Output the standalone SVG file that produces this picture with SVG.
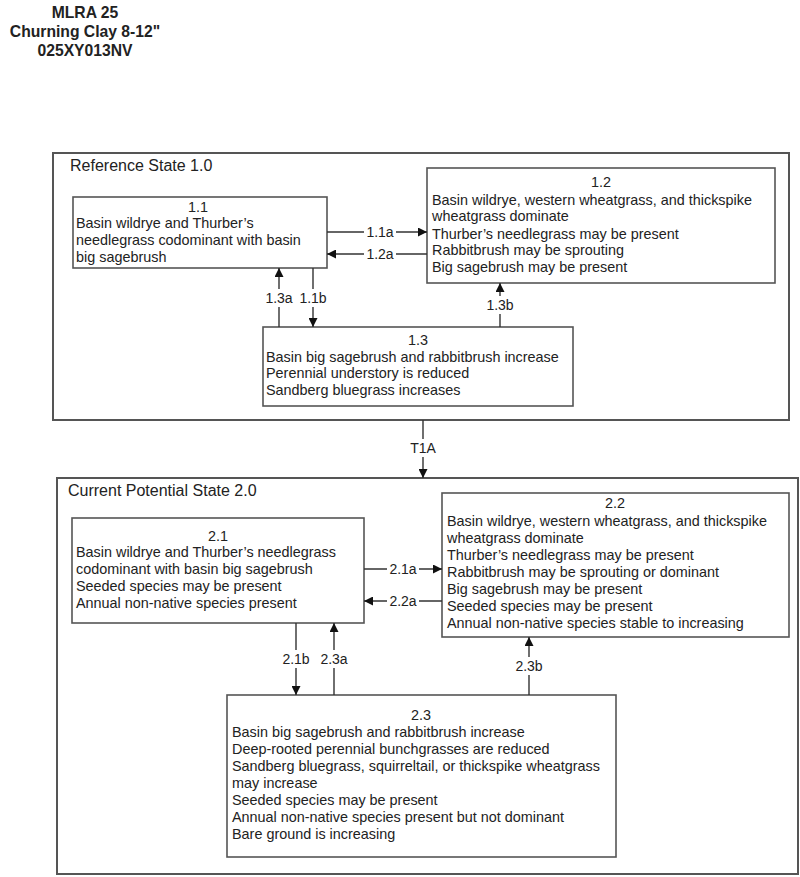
<svg xmlns="http://www.w3.org/2000/svg" width="800" height="877" viewBox="0 0 800 877">
<defs>
<style>
text{font-family:"Liberation Sans",Arial,sans-serif;fill:#222;}
.title{font-size:15.7px;font-weight:bold;text-anchor:middle;}
.state{font-size:16px;}
.t{font-size:14.4px;}
.c{text-anchor:middle;}
.lbl{font-size:14px;text-anchor:middle;}
.frame{fill:#fff;stroke:#555;stroke-width:2;}
.box{fill:#fff;stroke:#555;stroke-width:1.6;}
.ln{stroke:#333;stroke-width:1.4;fill:none;}
.bg{fill:#fff;}
</style>
<marker id="ah" viewBox="0 0 10 10" refX="10" refY="5" markerWidth="9" markerHeight="9" markerUnits="userSpaceOnUse" orient="auto">
<path d="M0,0 L10,5 L0,10 z" fill="#111"/>
</marker>
</defs>
<rect width="800" height="877" fill="#fff"/>
<g id="title">
<text class="title" x="85" y="18">MLRA 25</text>
<text class="title" x="85" y="37">Churning Clay 8-12"</text>
<text class="title" x="85" y="56">025XY013NV</text>
</g>
<g id="state1">
<rect class="frame" x="53" y="153" width="736" height="267"/>
<text class="state" x="70" y="171">Reference State 1.0</text>
</g>
<g id="state2">
<rect class="frame" x="57" y="478" width="741" height="396"/>
<text class="state" x="68" y="496">Current Potential State 2.0</text>
</g>
<g id="n11">
<rect class="box" x="73" y="197" width="254" height="71"/>
<text class="t c" x="198" y="212">1.1</text>
<text class="t" x="76" y="228">Basin wildrye and Thurber’s</text>
<text class="t" x="76" y="245">needlegrass codominant with basin</text>
<text class="t" x="76" y="262">big sagebrush</text>
</g>
<g id="n12">
<rect class="box" x="427" y="168" width="348" height="115"/>
<text class="t c" x="601" y="187">1.2</text>
<text class="t" x="432" y="205">Basin wildrye, western wheatgrass, and thickspike</text>
<text class="t" x="432" y="221">wheatgrass dominate</text>
<text class="t" x="432" y="239">Thurber’s needlegrass may be present</text>
<text class="t" x="432" y="255">Rabbitbrush may be sprouting</text>
<text class="t" x="432" y="272">Big sagebrush may be present</text>
</g>
<g id="n13">
<rect class="box" x="263" y="327" width="310" height="79"/>
<text class="t c" x="418" y="345">1.3</text>
<text class="t" x="266" y="362">Basin big sagebrush and rabbitbrush increase</text>
<text class="t" x="266" y="378">Perennial understory is reduced</text>
<text class="t" x="266" y="395">Sandberg bluegrass increases</text>
</g>
<g id="n21">
<rect class="box" x="72" y="518" width="292" height="105"/>
<text class="t c" x="218" y="541">2.1</text>
<text class="t" x="76" y="557">Basin wildrye and Thurber’s needlegrass</text>
<text class="t" x="76" y="574">codominant with basin big sagebrush</text>
<text class="t" x="76" y="591">Seeded species may be present</text>
<text class="t" x="76" y="608">Annual non-native species present</text>
</g>
<g id="n22">
<rect class="box" x="442" y="493" width="347" height="144"/>
<text class="t c" x="615" y="508">2.2</text>
<text class="t" x="447" y="526">Basin wildrye, western wheatgrass, and thickspike</text>
<text class="t" x="447" y="543">wheatgrass dominate</text>
<text class="t" x="447" y="560">Thurber’s needlegrass may be present</text>
<text class="t" x="447" y="577">Rabbitbrush may be sprouting or dominant</text>
<text class="t" x="447" y="594">Big sagebrush may be present</text>
<text class="t" x="447" y="611">Seeded species may be present</text>
<text class="t" x="447" y="628">Annual non-native species stable to increasing</text>
</g>
<g id="n23">
<rect class="box" x="227" y="695" width="389" height="162"/>
<text class="t c" x="421" y="720">2.3</text>
<text class="t" x="232" y="737">Basin big sagebrush and rabbitbrush increase</text>
<text class="t" x="232" y="754">Deep-rooted perennial bunchgrasses are reduced</text>
<text class="t" x="232" y="771">Sandberg bluegrass, squirreltail, or thickspike wheatgrass</text>
<text class="t" x="232" y="788">may increase</text>
<text class="t" x="232" y="805">Seeded species may be present</text>
<text class="t" x="232" y="822">Annual non-native species present but not dominant</text>
<text class="t" x="232" y="839">Bare ground is increasing</text>
</g>
<g id="connectors">
<line class="ln" x1="327" y1="232" x2="427" y2="232" marker-end="url(#ah)"/>
<line class="ln" x1="427" y1="254" x2="327" y2="254" marker-end="url(#ah)"/>
<line class="ln" x1="279" y1="327" x2="279" y2="268" marker-end="url(#ah)"/>
<line class="ln" x1="313" y1="268" x2="313" y2="327" marker-end="url(#ah)"/>
<line class="ln" x1="500" y1="327" x2="500" y2="283" marker-end="url(#ah)"/>
<line class="ln" x1="423" y1="420" x2="423" y2="478" marker-end="url(#ah)"/>
<line class="ln" x1="364" y1="569" x2="442" y2="569" marker-end="url(#ah)"/>
<line class="ln" x1="442" y1="601" x2="364" y2="601" marker-end="url(#ah)"/>
<line class="ln" x1="296" y1="623" x2="296" y2="695" marker-end="url(#ah)"/>
<line class="ln" x1="334" y1="695" x2="334" y2="623" marker-end="url(#ah)"/>
<line class="ln" x1="529" y1="695" x2="529" y2="637" marker-end="url(#ah)"/>
<rect class="bg" x="364" y="224" width="32" height="16"/>
<text class="lbl" x="380" y="237">1.1a</text>
<rect class="bg" x="364" y="246" width="32" height="16"/>
<text class="lbl" x="380" y="259">1.2a</text>
<rect class="bg" x="263" y="289" width="66" height="18"/>
<text class="lbl" x="279" y="303">1.3a</text>
<text class="lbl" x="313" y="303">1.1b</text>
<rect class="bg" x="484" y="296" width="32" height="18"/>
<text class="lbl" x="500" y="310">1.3b</text>
<rect class="bg" x="407" y="439" width="32" height="18"/>
<text class="lbl" x="423" y="453">T1A</text>
<rect class="bg" x="387" y="561" width="32" height="16"/>
<text class="lbl" x="403" y="574">2.1a</text>
<rect class="bg" x="387" y="593" width="32" height="16"/>
<text class="lbl" x="403" y="606">2.2a</text>
<rect class="bg" x="280" y="650" width="70" height="18"/>
<text class="lbl" x="296" y="664">2.1b</text>
<text class="lbl" x="334" y="664">2.3a</text>
<rect class="bg" x="513" y="657" width="32" height="18"/>
<text class="lbl" x="529" y="671">2.3b</text>
</g>
</svg>
